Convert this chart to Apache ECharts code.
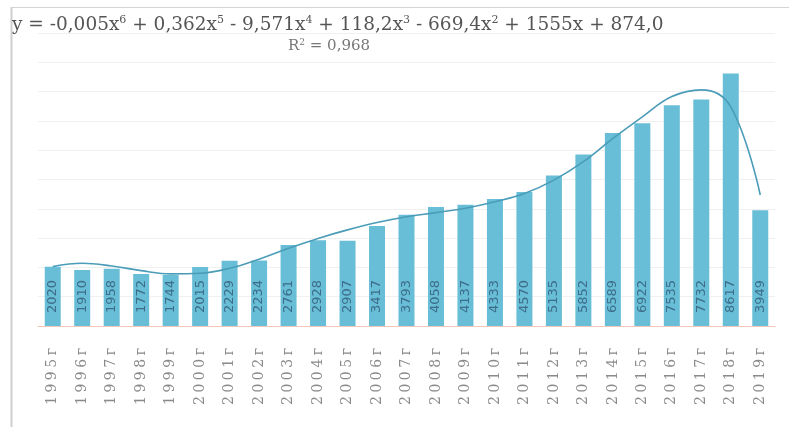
<!DOCTYPE html>
<html>
<head>
<meta charset="utf-8">
<script src="https://cdn.jsdelivr.net/npm/echarts@6/dist/echarts.min.js"></script>
<style>
html,body{margin:0;padding:0;background:#fff;}
#chart{width:789px;height:427px;}
</style>
</head>
<body>
<div id="chart"></div>
<script>
// ---- data ----
const years = ['1995г','1996г','1997г','1998г','1999г','2000г','2001г','2002г','2003г','2004г','2005г','2006г','2007г','2008г','2009г','2010г','2011г','2012г','2013г','2014г','2015г','2016г','2017г','2018г','2019г'];
const values = [2020,1910,1958,1772,1744,2015,2229,2234,2761,2928,2907,3417,3793,4058,4137,4333,4570,5135,5852,6589,6922,7535,7732,8617,3949];
// trend line (polynomial, 6th degree) at each year
const trendValues = [2030,2140,2050,1890,1780,1800,1970,2280,2650,2990,3280,3530,3730,3870,4020,4240,4520,4980,5610,6400,7140,7830,8060,7480,4470];
const equationText = 'y = -0,005x{s|6} + 0,362x{s|5} - 9,571x{s|4} + 118,2x{s|3} - 669,4x{s|2} + 1555x + 874,0';
const r2Text = 'R{s|2} = 0,968';
const yMax = 10000;
const yStep = 1000;

const chart = echarts.init(document.getElementById('chart'), null, {renderer:'canvas'});
chart.setOption({
  backgroundColor:'#ffffff',
  animation:false,
  grid:{left:38, right:14, top:33, bottom:101, containLabel:false},
  graphic:[
    {type:'line', shape:{x1:11, y1:7.5, x2:789, y2:7.5}, style:{stroke:'#d4d4d4', lineWidth:1}},
    {type:'line', shape:{x1:11.5, y1:7, x2:11.5, y2:427}, style:{stroke:'#cfcfcf', lineWidth:2}},
    {type:'text', left:12, top:15, style:{
      text:equationText, fontFamily:'DejaVu Serif', fontSize:18.5, fill:'#555555',
      rich:{s:{fontSize:11, fontFamily:'DejaVu Serif', fill:'#555555', padding:[0,0,10,0]}}
    }},
    {type:'text', left:288, top:38, style:{
      text:r2Text, fontFamily:'DejaVu Serif', fontSize:15, fill:'#777777',
      rich:{s:{fontSize:9, fontFamily:'DejaVu Serif', fill:'#777777', padding:[0,0,8,0]}}
    }}
  ],
  xAxis:{
    type:'category', data:years,
    axisTick:{show:false},
    axisLine:{lineStyle:{color:'#f2c6b8', width:1}},
    axisLabel:{
      rotate:90, margin:22, color:'#8c8c8c',
      formatter:function(v){return v.split('').map(function(c){return '{c|'+c+'}';}).join('');},
      rich:{c:{fontFamily:'DejaVu Serif', fontSize:14, color:'#8a8a8a', padding:[0,0,0,3.5]}}
    }
  },
  yAxis:{
    type:'value', min:0, max:yMax, interval:yStep,
    axisLabel:{show:false}, axisLine:{show:false}, axisTick:{show:false},
    splitLine:{lineStyle:{color:'#f0f0f0', width:1}}
  },
  series:[
    {
      type:'bar', data:values, barWidth:16,
      itemStyle:{color:'#68bed6'},
      label:{
        show:true, position:'insideBottom', rotate:90, align:'left', verticalAlign:'middle',
        distance:13, fontFamily:'DejaVu Sans', fontSize:13, color:'#3d6d8a'
      },
      z:2
    },
    {
      type:'line', data:trendValues, smooth:0.4, symbol:'none',
      lineStyle:{color:'#4b9cb8', width:1.6},
      z:3
    }
  ]
});
</script>
</body>
</html>
